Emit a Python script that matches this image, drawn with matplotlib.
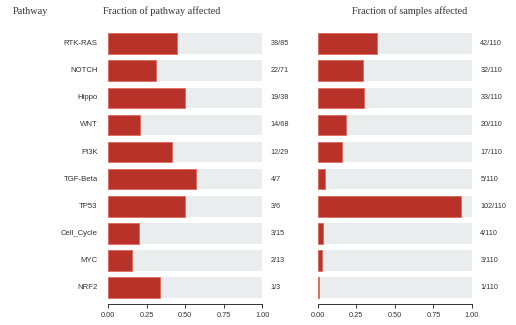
import matplotlib
matplotlib.use("Agg")
import matplotlib.pyplot as plt

pathways = ["RTK-RAS", "NOTCH", "Hippo", "WNT", "PI3K", "TGF-Beta", "TP53",
            "Cell_Cycle", "MYC", "NRF2"]
genes_altered = [38, 22, 19, 14, 12, 4, 3, 3, 2, 1]
genes_total = [85, 71, 38, 68, 29, 7, 6, 15, 13, 3]
samples_altered = [42, 32, 33, 20, 17, 5, 102, 4, 3, 1]
samples_total = [110] * 10
xticks = [0.0, 0.25, 0.5, 0.75, 1.0]

RED = "#B8322A"
EDGE = "#E06A5E"
GREY = "#E9EDED"
TXT = "#333333"
SANS = "Liberation Sans"
SERIF = "Liberation Serif"

fig = plt.figure(figsize=(5.16, 3.25), dpi=100)
W, H = 516, 325

def make_ax(x0, x1, y0, y1):
    return fig.add_axes([x0 / W, 1 - y1 / H, (x1 - x0) / W, (y1 - y0) / H])

ax_l = make_ax(108.3, 262.3, 30.15, 301.05)
ax_r = make_ax(317.7, 472.0, 30.15, 301.05)

def draw_panel(ax, num, den):
    ypos = list(range(len(pathways)))
    frac = [n / d for n, d in zip(num, den)]
    ax.barh(ypos, [1.0] * len(ypos), height=0.76, color=GREY, linewidth=0)
    ax.barh(ypos, frac, height=0.76, color=RED, edgecolor=EDGE, linewidth=0.6)
    ax.set_xlim(0, 1)
    ax.set_ylim(len(ypos) - 0.5, -0.5)
    for s in ["top", "right", "left"]:
        ax.spines[s].set_visible(False)
    ax.spines["bottom"].set_position(("outward", 2.2))
    ax.spines["bottom"].set_linewidth(0.7)
    ax.spines["bottom"].set_color(TXT)
    ax.set_xticks(xticks)
    ax.set_xticklabels([f"{t:.2f}" for t in xticks], fontsize=5.3,
                       color=TXT, family=SANS)
    ax.tick_params(axis="x", length=3, width=0.7, pad=2.5, color=TXT)
    ax.set_yticks([])
    for y, n, d in zip(ypos, num, den):
        ax.text(1.054, y, f"{n}/{d}", transform=ax.get_yaxis_transform(),
                ha="left", va="center", fontsize=5.2, color=TXT, family=SANS)

draw_panel(ax_l, genes_altered, genes_total)
draw_panel(ax_r, samples_altered, samples_total)

for y, name in enumerate(pathways):
    ax_l.text(-0.069, y, name, transform=ax_l.get_yaxis_transform(),
              ha="right", va="center", fontsize=5.6, color=TXT, family=SANS)

fig.text(13 / W, 1 - 11 / H, "Pathway", ha="left", va="center",
         fontsize=7.3, family=SERIF, color=TXT)
fig.text(162 / W, 1 - 11 / H, "Fraction of pathway affected", ha="center",
         va="center", fontsize=7.3, family=SERIF, color=TXT)
fig.text(410 / W, 1 - 11 / H, "Fraction of samples affected", ha="center",
         va="center", fontsize=7.3, family=SERIF, color=TXT)

fig.savefig("out.png", dpi=100)
